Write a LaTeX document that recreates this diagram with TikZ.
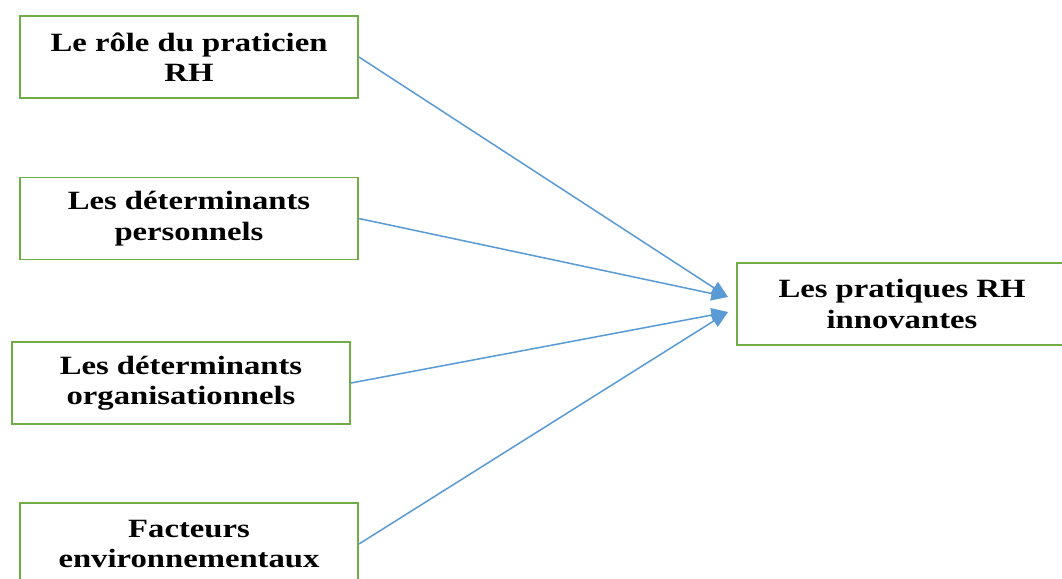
\documentclass[tikz,border=0pt]{standalone}
\usepackage{fontspec}
\setmainfont{Liberation Serif}[FakeStretch=1.24]
\usetikzlibrary{arrows.meta}
\definecolor{boxgreen}{RGB}{112,173,71}
\definecolor{arrowblue}{RGB}{91,155,213}
\tikzset{
  factor/.style={draw=boxgreen, line width=1.6pt, align=center, minimum width=10.14cm, minimum height=2.46cm, inner sep=0pt, font=\fontsize{22.5}{26}\selectfont\bfseries},
  link/.style={draw=arrowblue, line width=1.3pt, -{Triangle[length=0.5cm,width=0.42cm]}}
}
\begin{document}
\begin{tikzpicture}[x=0.03cm,y=-0.03cm]
\useasboundingbox (0,0) rectangle (1062,578);
\node[factor] (a) at (189,57) {Le rôle du praticien\\ RH};
\node[factor] (b) at (189,218.5) {Les déterminants\\ personnels};
\node[factor] (c) at (181,383) {Les déterminants\\ organisationnels};
\node[factor] (d) at (189,544) {Facteurs\\ environnementaux};
\node[factor, minimum width=9.9cm] (e) at (902,304) {Les pratiques RH\\ innovantes};
\coordinate (e1) at (728,297);
\coordinate (e2) at (728,312);
\draw[link] (a.east) -- (e1);
\draw[link] (b.east) -- (e1);
\draw[link] (c.east) -- (e2);
\draw[link] (d.east) -- (e2);
\end{tikzpicture}
\end{document}
